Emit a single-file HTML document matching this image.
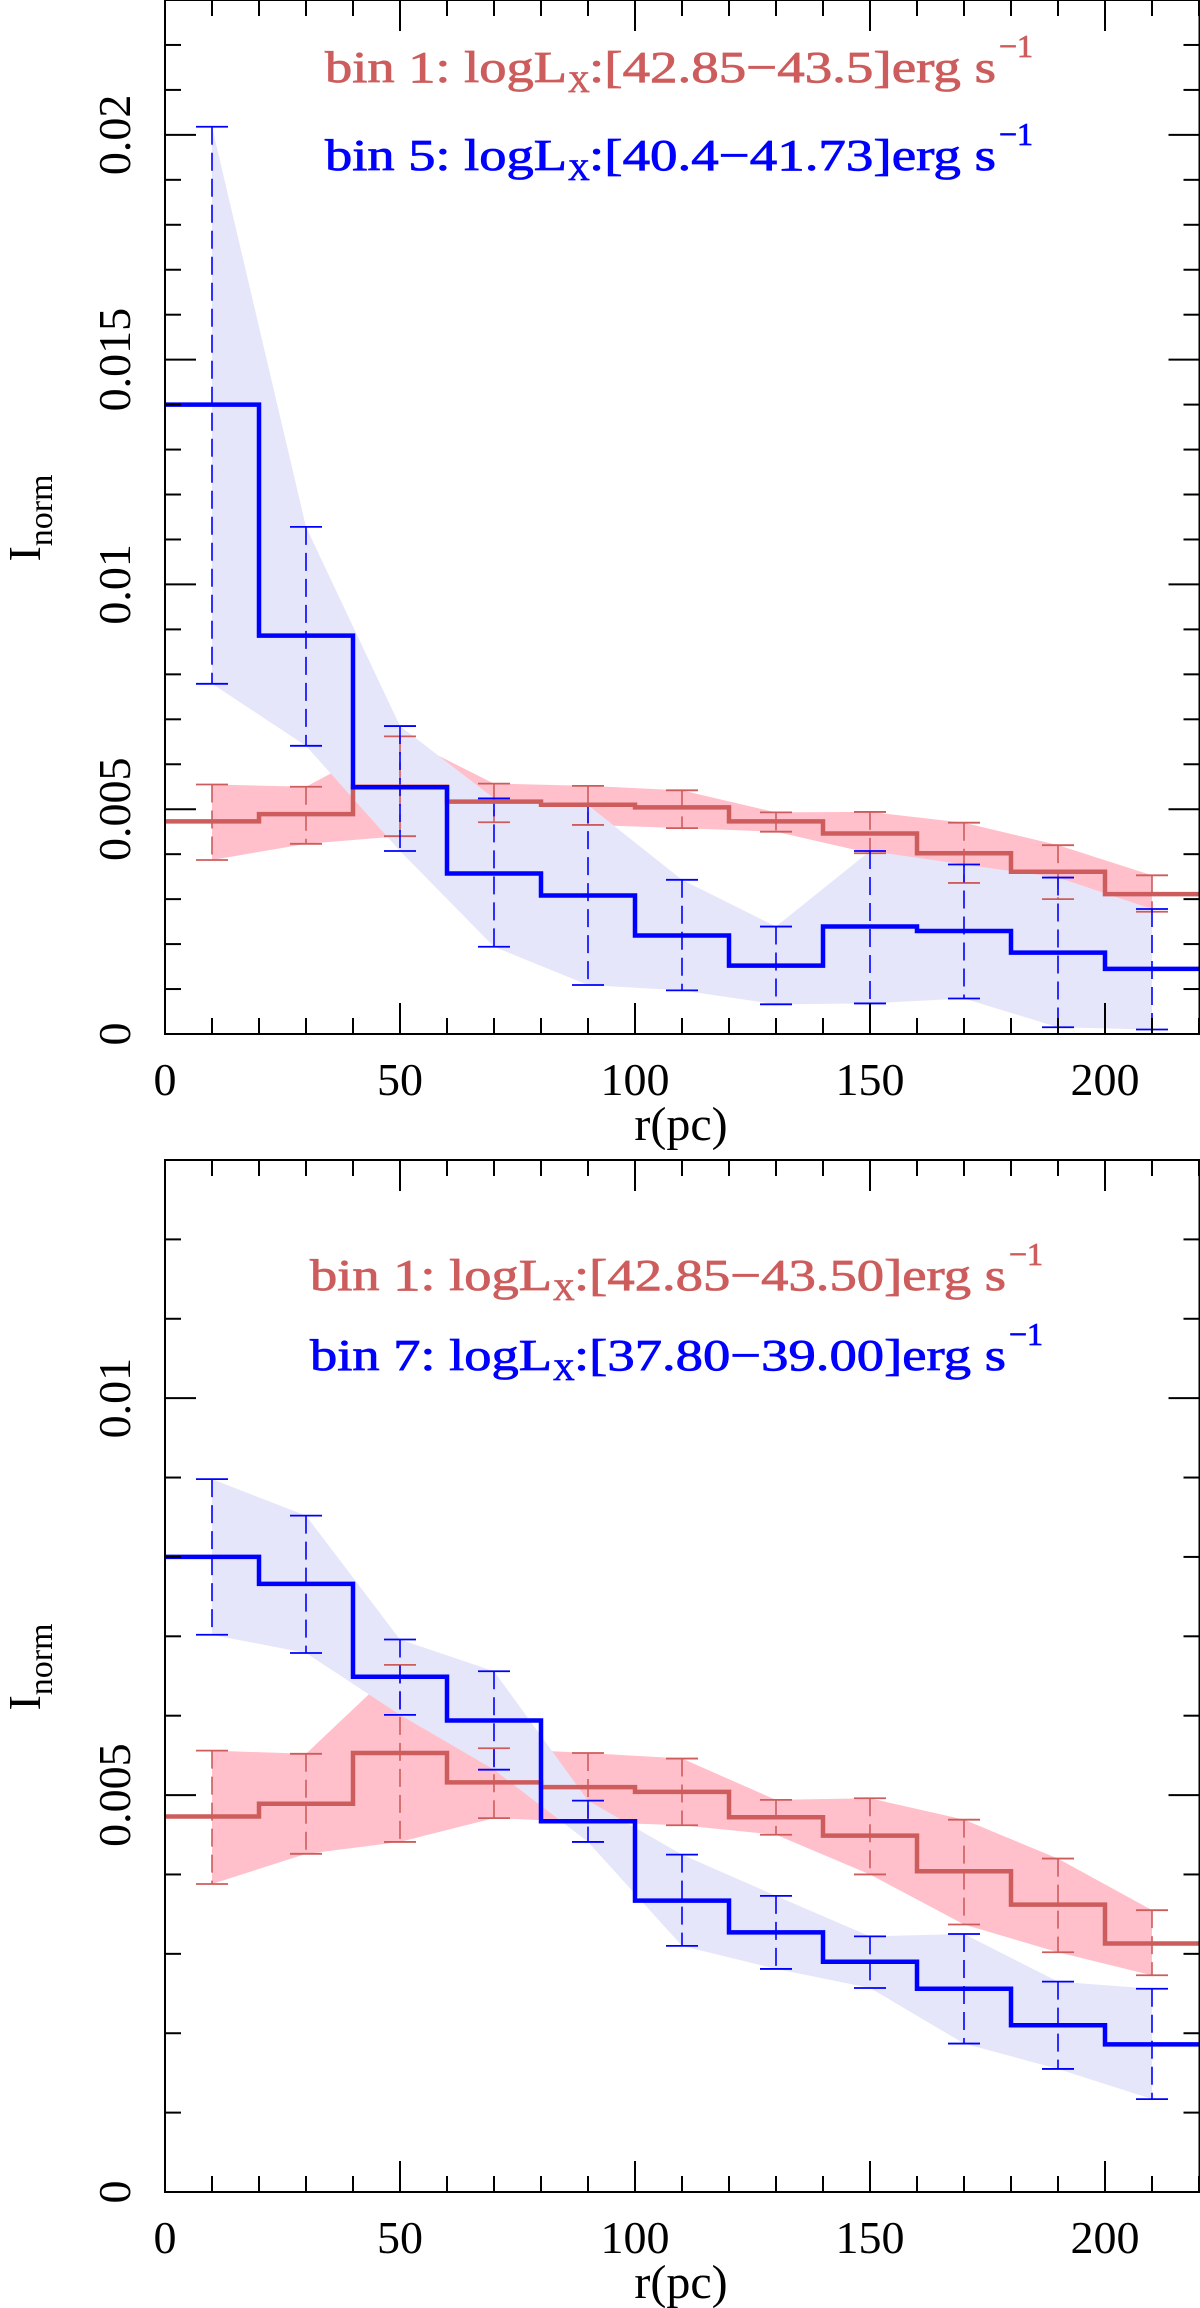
<!DOCTYPE html>
<html><head><meta charset="utf-8"><style>
html,body{margin:0;padding:0;background:#fff;}
svg{display:block;}
text{font-family:"Liberation Serif",serif;}
</style></head><body>
<svg id="fig" width="1200" height="2308" viewBox="0 0 1200 2308" xmlns="http://www.w3.org/2000/svg"></svg>
<script>
// ---- data: panel 1 ----
const binEdges = [0,20,40,60,80,100,120,140,160,180,200,220];
const errX = [10,30,50,70,90,110,130,150,170,190,210];
const p1RedStep = [0.00473,0.00489,0.0055,0.00517,0.0051,0.00504,0.00473,0.00446,0.00402,0.00361,0.00311];
const p1RedHi = [0.00555,0.0055,0.00662,0.00557,0.00552,0.00542,0.00493,0.00494,0.0047,0.0042,0.00353];
const p1RedLo = [0.00387,0.00423,0.0044,0.00471,0.00465,0.00458,0.0045,0.00402,0.00336,0.003,0.00272];
const p1BlueStep = [0.014,0.00886,0.00549,0.00357,0.00308,0.00219,0.00152,0.00239,0.00229,0.00181,0.00145];
const p1BlueHi = [0.02018,0.01128,0.00685,0.00524,0.00509,0.00343,0.00239,0.00407,0.00377,0.00348,0.00278];
const p1BlueLo = [0.00779,0.00641,0.00407,0.00194,0.00109,0.00097,0.00066,0.00068,0.00079,0.00015,0.0001];
const p1YTicks = ["0","0.005","0.01","0.015","0.02"];
// ---- data: panel 2 ----
const p2RedStep = [0.00473,0.00489,0.00553,0.00516,0.0051,0.00504,0.00472,0.00449,0.00404,0.00362,0.00313];
const p2RedHi = [0.00556,0.00552,0.00664,0.00559,0.00553,0.00546,0.00494,0.00496,0.00469,0.0042,0.00355];
const p2RedLo = [0.00388,0.00426,0.00441,0.00471,0.00466,0.00462,0.0045,0.004,0.00337,0.00302,0.00273];
const p2BlueStep = [0.008,0.00766,0.00649,0.00594,0.00467,0.00367,0.00327,0.0029,0.00256,0.0021,0.00186];
const p2BlueHi = [0.00898,0.00852,0.00696,0.00656,0.00493,0.00425,0.00373,0.00322,0.00325,0.00265,0.00256];
const p2BlueLo = [0.00702,0.00679,0.00601,0.00532,0.00441,0.0031,0.00281,0.00257,0.00187,0.00155,0.00117];
const p2YTicks = ["0","0.005","0.01"];
const xTickLabels = ["0","50","100","150","200"];

const NS="http://www.w3.org/2000/svg";
const svg=document.getElementById('fig');
function mk(tag,attrs,parent){const e=document.createElementNS(NS,tag);for(const k in attrs)e.setAttribute(k,attrs[k]);(parent||svg).appendChild(e);return e;}
const RED="#cd5c5c",PINK="#ffc0cb",BLUE="#0000ff",LAV="#e6e6fa";

function panel(cfg){
  const g=mk('g',{});
  
  
  const L=165,R=1199.5,T=cfg.top,B=cfg.bottom;
  const X=v=>L+v*4.7;
  const Y=v=>B-(v/cfg.ymax)*(B-T);
  function band(hi,lo,col,nm){
    let pts=errX.map((x,i)=>X(x)+','+Y(hi[i]));
    pts=pts.concat(errX.slice().reverse().map((x,j)=>{const i=errX.length-1-j;return X(x)+','+Y(lo[i]);}));
    const p=mk('polygon',{points:pts.join(' '),fill:col},g);
    
    
  }
  band(cfg.rh,cfg.rl,PINK,'red-error-band');
  band(cfg.bh,cfg.bl,LAV,'blue-error-band');
  function errs(hi,lo,col,nm){
    errX.forEach((x,i)=>{
      const ln=mk('line',{x1:X(x),x2:X(x),y1:Y(hi[i]),y2:Y(lo[i]),stroke:col,'stroke-width':1.6,'stroke-dasharray':'18 8'},g);
      
      
      mk('line',{x1:X(x)-16,x2:X(x)+16,y1:Y(hi[i]),y2:Y(hi[i]),stroke:col,'stroke-width':1.8},g);
      mk('line',{x1:X(x)-16,x2:X(x)+16,y1:Y(lo[i]),y2:Y(lo[i]),stroke:col,'stroke-width':1.8},g);
    });
  }
  function step(vals,col,nm){
    let d='';
    vals.forEach((v,i)=>{d+=(i?'L':'M')+X(binEdges[i])+','+Y(v)+'L'+Math.min(X(binEdges[i+1]),1200)+','+Y(v);});
    const p=mk('path',{d:d,fill:'none',stroke:col,'stroke-width':4.5},g);
    
    
  }
  errs(cfg.rh,cfg.rl,RED,'red-error-bar');
  errs(cfg.bh,cfg.bl,BLUE,'blue-error-bar');
  step(cfg.rs,RED,'red-step-line');
  step(cfg.bs,BLUE,'blue-step-line');
  const fr=mk('rect',{x:L,y:T,width:R-L,height:B-T,fill:'none',stroke:'#000','stroke-width':2},g);
  
  
  for(let v=0;v<=220;v+=10){
    const len=(v%50===0)?31:16;
    mk('line',{x1:X(v),x2:X(v),y1:B,y2:B-len,stroke:'#000','stroke-width':2},g);
    mk('line',{x1:X(v),x2:X(v),y1:T,y2:T+len,stroke:'#000','stroke-width':2},g);
  }
  xTickLabels.forEach(s=>{
    const t=mk('text',{x:X(+s),y:cfg.xlabY,'text-anchor':'middle','font-size':46},g);
    t.textContent=s;
    
    
  });
  for(let k=0;k*0.001<=cfg.ymax+1e-9;k++){
    const v=k*0.001;const len=(k%5===0)?31:16;
    mk('line',{x1:L,x2:L+len,y1:Y(v),y2:Y(v),stroke:'#000','stroke-width':2},g);
    mk('line',{x1:R,x2:R-len,y1:Y(v),y2:Y(v),stroke:'#000','stroke-width':2},g);
  }
  cfg.yt.forEach(s=>{
    const y=Y(+s);
    const t=mk('text',{x:0,y:0,'text-anchor':'middle','font-size':46,transform:`translate(130,${y}) rotate(-90)`},g);
    t.textContent=s;
    
    
  });
  const xt=mk('text',{x:681,y:cfg.xtitleY,'text-anchor':'middle','font-size':48},g);
  xt.textContent='r(pc)';
  
  
  const yt=mk('text',{x:0,y:0,'text-anchor':'middle','font-size':46,transform:`translate(40,${cfg.ytitleY}) rotate(-90)`},g);
  yt.innerHTML='I<tspan font-size="34" dy="12">norm</tspan>';
  
  
  cfg.leg.forEach(l=>{
    const lg=mk('g',{fill:l.col,stroke:l.col,'stroke-width':0.8,'font-size':44},g);
    
    
    const a=mk('text',{x:l.x0,y:l.y,textLength:l.w1,lengthAdjust:'spacingAndGlyphs'},lg);a.textContent=l.p1;
    const b=mk('text',{x:l.x0+l.w1+1,y:l.y+10,'font-size':30},lg);b.textContent='X';
    const c=mk('text',{x:l.x0+l.w1+22,y:l.y,textLength:l.w2,lengthAdjust:'spacingAndGlyphs'},lg);c.textContent=l.p2;
    const d=mk('text',{x:l.x0+l.w1+22+l.w2+3,y:l.y-25,'font-size':32},lg);d.textContent='\u22121';
  });
}
panel({name:'top-panel',top:0,bottom:1034,ymax:0.023,rs:p1RedStep,rh:p1RedHi,rl:p1RedLo,bs:p1BlueStep,bh:p1BlueHi,bl:p1BlueLo,yt:p1YTicks,xlabY:1095,xtitleY:1140,ytitleY:518,
 leg:[{name:'legend-bin1',col:RED,x0:325,y:82,w1:242,w2:407,p1:'bin 1: logL',p2:':[42.85\u221243.5]erg s'},
      {name:'legend-bin5',col:BLUE,x0:325,y:170,w1:242,w2:407,p1:'bin 5: logL',p2:':[40.4\u221241.73]erg s'}]});
panel({name:'bottom-panel',top:1160,bottom:2192,ymax:0.013,rs:p2RedStep,rh:p2RedHi,rl:p2RedLo,bs:p2BlueStep,bh:p2BlueHi,bl:p2BlueLo,yt:p2YTicks,xlabY:2253,xtitleY:2298,ytitleY:1667,
 leg:[{name:'legend-bin1',col:RED,x0:310,y:1290,w1:242,w2:432,p1:'bin 1: logL',p2:':[42.85\u221243.50]erg s'},
      {name:'legend-bin7',col:BLUE,x0:310,y:1370,w1:242,w2:432,p1:'bin 7: logL',p2:':[37.80\u221239.00]erg s'}]});
</script>
</body></html>
